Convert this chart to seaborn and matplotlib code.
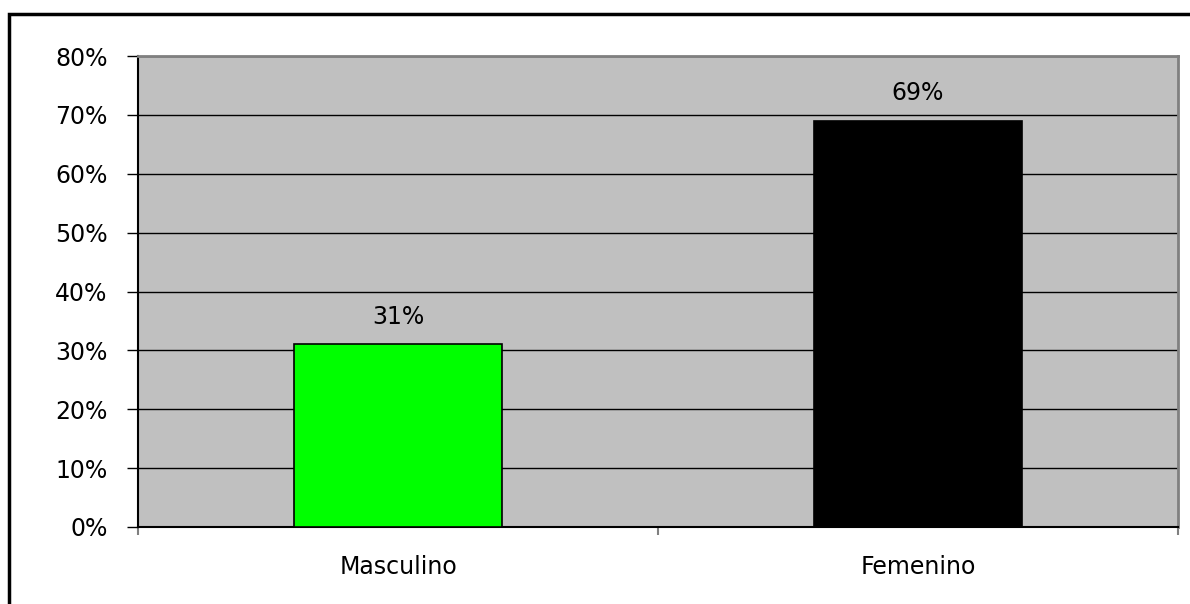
import pandas as pd
import seaborn as sns
import matplotlib.pyplot as plt
from matplotlib.patches import Rectangle
from matplotlib.ticker import PercentFormatter

# Datos
categories = ['Masculino', 'Femenino']
values = [31, 69]
bar_colors = ['#00FF00', '#000000']
y_ticks = [0, 10, 20, 30, 40, 50, 60, 70, 80]

df = pd.DataFrame({'sexo': categories, 'pct': values})

sns.set_style('white')
plt.rcParams['font.family'] = ['DejaVu Sans']
plt.rcParams['text.color'] = 'black'
plt.rcParams['xtick.color'] = 'black'
plt.rcParams['ytick.color'] = 'black'
plt.rcParams['xtick.labelcolor'] = 'black'
plt.rcParams['ytick.labelcolor'] = 'black'

fig = plt.figure(figsize=(11.9, 6.04), dpi=100)
ax = fig.add_axes([138 / 1190, 1 - 527 / 604, 1040 / 1190, 471 / 604])
ax.set_facecolor('#C0C0C0')

sns.barplot(data=df, x='sexo', y='pct', hue='sexo', palette=bar_colors,
            saturation=1, width=0.4, edgecolor='black', linewidth=1.2,
            legend=False, ax=ax, zorder=3)

ax.set_ylim(0, 80)
ax.set_yticks(y_ticks)
ax.yaxis.set_major_formatter(PercentFormatter(decimals=0))
ax.grid(axis='y', color='black', linewidth=1, zorder=0)
ax.set_axisbelow(True)
ax.set_xlim(-0.5, 1.5)
ax.set_xticks([-0.5, 0.5, 1.5], minor=False)
ax.set_xticklabels(['', '', ''])
ax.set_xticks([0, 1], minor=True)
ax.set_xticklabels(categories, minor=True)
ax.tick_params(axis='x', which='major', bottom=True, direction='out',
               length=6, color='#808080', width=1.5)
ax.tick_params(axis='x', which='minor', bottom=True, length=0,
               labelsize=17, labelcolor='black', pad=20)
ax.tick_params(axis='y', left=True, direction='out', length=8, color='black',
               width=1, labelsize=17, labelcolor='black', pad=14)
ax.set_xlabel('')
ax.set_ylabel('')

for side in ['top', 'right']:
    ax.spines[side].set_color('#808080')
    ax.spines[side].set_linewidth(2)
for side in ['left', 'bottom']:
    ax.spines[side].set_color('black')
    ax.spines[side].set_linewidth(1.5)

for i, v in enumerate(values):
    ax.annotate(f'{v}%', (i, v), xytext=(0, 20), textcoords='offset points',
                ha='center', va='center', fontsize=17, color='black')

# marco exterior
fig.patches.append(Rectangle((9 / 1190, -0.05), 1.1, 1 - 14 / 604 + 0.05,
                             transform=fig.transFigure, fill=False,
                             edgecolor='black', linewidth=2.5))

fig.savefig('out.png', dpi=100)
